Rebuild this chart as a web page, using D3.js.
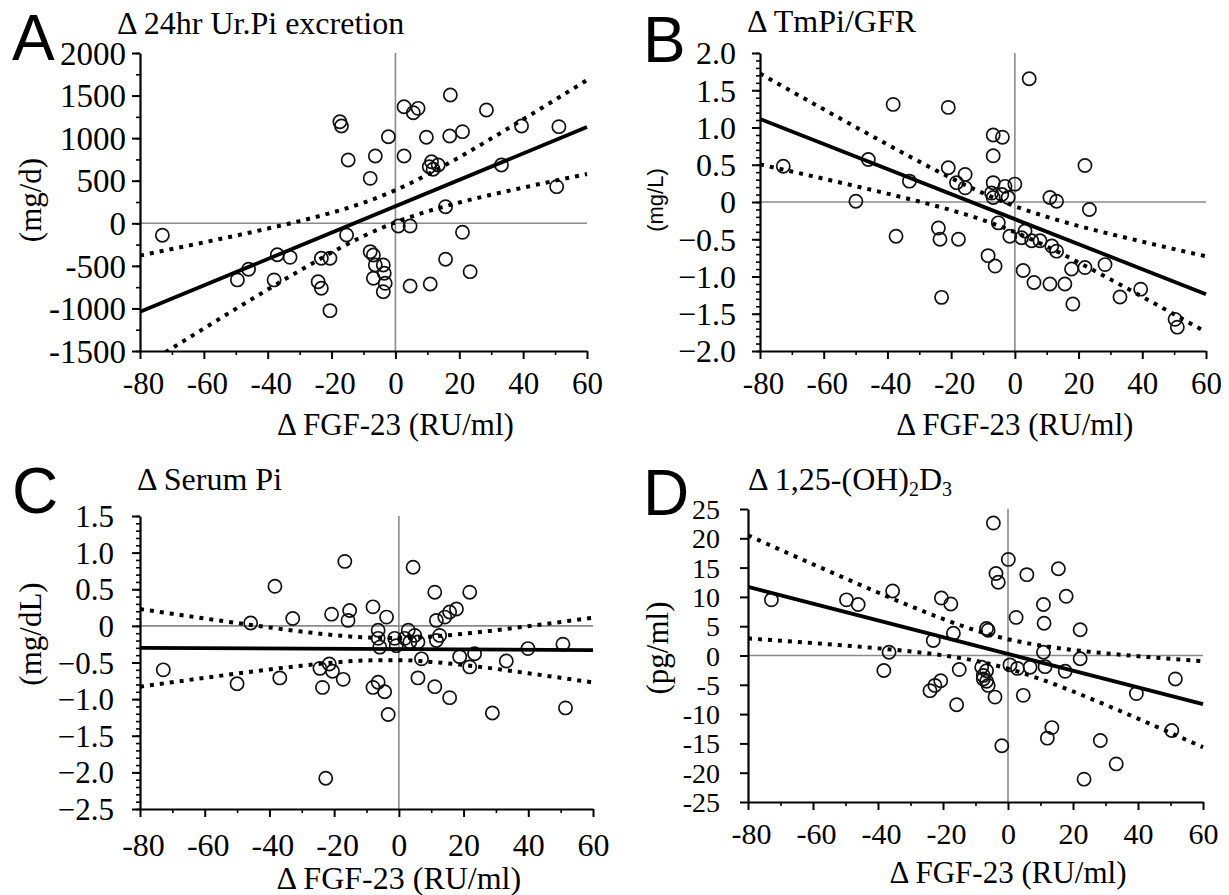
<!DOCTYPE html>
<html>
<head>
<meta charset="utf-8">
<script src="https://cdn.jsdelivr.net/npm/d3@7"></script>
<style>
  body { margin: 0; background: #fff; }
  svg text { font-family: "Liberation Serif", "Times New Roman", serif; fill: #000; }
</style>
</head>
<body>
<svg id="chart" width="1229" height="895"></svg>
<script>
// ---- shared x axis: change in FGF-23 (RU/ml) ----
const xTickValues = [-80, -60, -40, -20, 0, 20, 40, 60];
const xMinorValues = [-70, -50, -30, -10, 10, 30, 50];
// x positions at which the 95% confidence limits are tabulated
const ciX = [-80, -70, -60, -50, -40, -30, -20, -10, 0, 10, 20, 30, 40, 50, 60];

// ---- A: change in 24 hr urinary Pi excretion (mg/d) ----
const urPiX = [-73, -49.5, -46, -38, -37, -33, -24.2, -23.2, -23.2, -20.5, -20.5, -17.4, -16.9, -14.8, -15.3,
  -7.9, -6.3, -7.9, -6.9, -6.9, -3.8, -6.3, -3.2, -3.8, -3.5, -2.2, 0.9, 2.7, 5.6, 7.1, 2.7, 9.7, 17.0, 21.0,
  17.2, 28.5, 11.3, 13.4, 11.8, 10.6, 33.2, 39.5, 51.2, 50.5, 15.7, 4.6, 21.0, 15.7, 23.4, 4.6, 10.9];
const urPiY = [-140, -665, -540, -665, -370, -400, -686, -763, -411, -411, -1026, 1193, 1143, 743, -137,
  528, 790, -333, -372, -646, -490, -490, -705, -803, -587, 1017, -32, 1369, 1299, 1350, 790, 1010, 1025, 1076,
  1507, 1331, 723, 685, 634, 665, 685, 1143, 1135, 430, 195, -32, -106, -423, -568, -736, -713];
const urPiFitX = [-80, 60];
const urPiFitY = [-1040, 1130];
const urPiUpper = [-378, -302, -224, -145, -62, 26, 124, 241, 389, 571, 776, 995, 1221, 1450, 1682];
const urPiLower = [-1702, -1468, -1236, -1005, -778, -556, -344, -151, 11, 139, 244, 335, 419, 500, 578];
const urPiTicks = [2000, 1500, 1000, 500, 0, -500, -1000, -1500];

// ---- B: change in TmPi/GFR (mg/L) ----
const tmpX = [-72.7, -49.9, -46.0, -38.2, -37.3, -33.1, -24.0, -23.5, -23.0, -20.9, -20.9, -15.6, -18.3, -15.6,
  -17.7, -6.8, -3.9, -6.8, -6.8, -3.1, 0, -7.3, -4.1, -2.1, -6.8, 4.5, 22.0, 11.0, 13.1, 23.4, -5.2, -1.6, 2.1,
  3.2, 5.3, 7.9, 11.6, 13.1, -8.4, -6.2, 2.6, 6.0, 11.0, 15.7, 17.8, 22.0, 18.2, 28.3, 33.0, 39.5, 50.3, 51.0];
const tmpY = [0.48, 0.01, 0.57, 1.31, -0.46, 0.28, -0.35, -0.50, -1.28, 1.27, 0.46, 0.37, 0.26, 0.19,
  -0.50, 0.90, 0.87, 0.62, 0.26, 0.21, 0.24, 0.12, 0.10, 0.06, 0.06, 1.655, 0.49, 0.06, 0.01, -0.10, -0.28, -0.46, -0.48,
  -0.39, -0.52, -0.52, -0.59, -0.66, -0.72, -0.86, -0.92, -1.08, -1.10, -1.10, -0.90, -0.88, -1.37, -0.84, -1.275, -1.17, -1.575, -1.68];
const tmpFitX = [-80, 60];
const tmpFitY = [1.114, -1.238];
const tmpUpper = [1.724, 1.483, 1.244, 1.007, 0.772, 0.542, 0.321, 0.119, -0.056, -0.199, -0.321, -0.430, -0.532, -0.632, -0.729];
const tmpLower = [0.504, 0.409, 0.312, 0.213, 0.112, 0.006, -0.109, -0.243, -0.404, -0.597, -0.811, -1.038, -1.272, -1.508, -1.747];
const tmpTicks = [2.0, 1.5, 1.0, 0.5, 0, -0.5, -1.0, -1.5, -2.0];

// ---- C: change in serum Pi (mg/dL) ----
const serumX = [-72.8, -50.0, -45.8, -38.3, -36.8, -32.8, -24.4, -23.6, -21.5, -20.5, -20.8, -22.6, -17.2, -16.7,
  -15.2, -15.7, -8.0, -3.8, -6.4, -6.4, -5.9, -8.0, -6.4, -4.4, -3.3, 4.4, 11.1, 21.9, 11.6, 14.2, 15.7, 17.8,
  2.9, 4.9, 3.4, 5.9, 1.8, -1.3, -0.8, 11.6, 12.6, 7.0, 18.8, 23.4, 21.9, 39.9, 33.2, 50.7, 5.9, 11.1, 15.7, 28.9, 51.5];
const serumY = [-0.60, -0.79, 0.04, 0.54, -0.71, 0.10, -0.58, -0.84, -0.52, -0.62, 0.16, -2.08, -0.73, 0.88,
  0.21, 0.075, 0.26, 0.12, -0.06, -0.17, -0.29, -0.84, -0.77, -0.90, -1.21, 0.80, 0.46, 0.46, 0.075, 0.12, 0.19, 0.23,
  -0.06, -0.13, -0.22, -0.22, -0.17, -0.17, -0.27, -0.20, -0.13, -0.45, -0.42, -0.38, -0.56, -0.31, -0.48, -0.25, -0.71, -0.83, -0.98, -1.19, -1.12];
const serumFitX = [-80, 60];
const serumFitY = [-0.300, -0.330];
const serumUpper = [0.230, 0.165, 0.101, 0.039, -0.021, -0.078, -0.126, -0.158, -0.166, -0.146, -0.108, -0.059, -0.005, 0.053, 0.112];
const serumLower = [-0.830, -0.769, -0.709, -0.651, -0.595, -0.544, -0.500, -0.472, -0.468, -0.492, -0.534, -0.587, -0.647, -0.709, -0.772];
const serumTicks = [1.5, 1.0, 0.5, 0, -0.5, -1.0, -1.5, -2.0, -2.5];

// ---- D: change in 1,25-(OH)2D3 (pg/ml) ----
const vitDX = [-72.8, -49.7, -46.1, -35.5, -36.6, -38.2, -23.0, -20.5, -17.6, -24.0, -22.5, -20.7, -16.8, -15.0,
  -15.8, -4.5, 0.1, -3.7, -3.0, 5.8, 15.5, 17.9, 10.9, 11.1, 2.5, 22.2, -6.6, -6.1, 10.9, 22.2, -8.1, -6.6, -7.6,
  -6.6, -6.1, -7.6, -4.0, -1.9, 0.6, 2.9, 6.8, 11.4, 17.6, 4.7, 13.5, 12.1, 28.4, 33.3, 23.4, 39.5, 51.5, 50.4];
const vitDY = [9.5, 9.5, 8.7, 11.0, 0.56, -2.56, 2.56, 9.8, 8.8, -6.0, -5.1, -4.3, 3.8, -2.4,
  -8.4, 22.6, 16.4, 14.0, 12.5, 13.8, 14.8, 10.1, 8.7, 5.5, 6.5, 4.4, 4.6, 4.3, 0.56, -0.56, -2.0, -2.6, -3.4,
  -4.4, -5.1, -4.0, -7.1, -15.4, -1.6, -2.2, -2.0, -1.9, -2.7, -6.8, -12.3, -14.1, -14.5, -18.5, -21.1, -6.5, -4.0, -12.8];
const vitDFitX = [-80, 60];
const vitDFitY = [11.71, -8.31];
const vitDUpper = [20.51, 18.03, 15.57, 13.14, 10.75, 8.42, 6.24, 4.30, 2.78, 1.71, 0.95, 0.37, -0.12, -0.56, -0.97];
const vitDLower = [2.91, 2.53, 2.13, 1.70, 1.23, 0.70, 0.02, -0.90, -2.24, -4.03, -6.13, -8.41, -10.78, -13.20, -15.65];
const vitDTicks = [25, 20, 15, 10, 5, 0, -5, -10, -15, -20, -25];

// ---- layout of the four panels ----
const decFmt = v => (v === 0 ? "0" : d3.format(".1f")(v));
const intFmt = v => String(v);

const panels = [
  { key: "A", letter: "A", letterPos: [12, 60], title: "\u0394 24hr Ur.Pi excretion", titlePos: [117, 34],
    left: 140, right: 587, top: 53, bottom: 351, yDomain: [-1500, 2000],
    xs: urPiX, ys: urPiY, fitX: urPiFitX, fitY: urPiFitY, upper: urPiUpper, lower: urPiLower,
    yTicks: urPiTicks, yMinor: d3.range(-1500, 2001, 250), fmt: intFmt, yPad: 6, yFont: 33,
    xFont: 31, xPad: 13, yLabel: "(mg/d)", yLabelPos: [30, 200], yLabelSans: false,
    xLabelY: 435, xLabelFont: 31 },
  { key: "B", letter: "B", letterPos: [643, 62], title: "\u0394 TmPi/GFR", titlePos: [747, 32],
    left: 760, right: 1206, top: 53, bottom: 351, yDomain: [-2, 2],
    xs: tmpX, ys: tmpY, fitX: tmpFitX, fitY: tmpFitY, upper: tmpUpper, lower: tmpLower,
    yTicks: tmpTicks, yMinor: d3.range(-20, 21, 1).map(v => v / 10), fmt: decFmt, yPad: 16, yFont: 32,
    xFont: 31, xPad: 13, yLabel: "(mg/L)", yLabelPos: [655, 200], yLabelSans: true,
    xLabelY: 435, xLabelFont: 31 },
  { key: "C", letter: "C", letterPos: [12, 513], title: "\u0394 Serum Pi", titlePos: [137, 490],
    left: 140, right: 593, top: 516, bottom: 809, yDomain: [-2.5, 1.5],
    xs: serumX, ys: serumY, fitX: serumFitX, fitY: serumFitY, upper: serumUpper, lower: serumLower,
    yTicks: serumTicks, yMinor: d3.range(-25, 16, 1).map(v => v / 10), fmt: decFmt, yPad: 18, yFont: 31,
    xFont: 32, xPad: 16, yLabel: "(mg/dL)", yLabelPos: [30, 634], yLabelSans: false,
    xLabelY: 889, xLabelFont: 32 },
  { key: "D", letter: "D", letterPos: [643, 515], title: null, titlePos: [748, 490],
    left: 748, right: 1203, top: 509, bottom: 802, yDomain: [-25, 25],
    xs: vitDX, ys: vitDY, fitX: vitDFitX, fitY: vitDFitY, upper: vitDUpper, lower: vitDLower,
    yTicks: vitDTicks, yMinor: [], fmt: intFmt, yPad: 20, yFont: 28,
    xFont: 30, xPad: 13, yLabel: "(pg/ml)", yLabelPos: [657, 648], yLabelSans: false,
    xLabelY: 883, xLabelFont: 31 }
];

const svg = d3.select("#chart");
const sansFont = "'Liberation Sans', Arial, sans-serif";

function drawPanel(p) {
  const x = d3.scaleLinear().domain([-80, 60]).range([p.left, p.right]);
  const y = d3.scaleLinear().domain(p.yDomain).range([p.bottom, p.top]);
  const g = svg.append("g").attr("class", "panel-" + p.key);

  const clipId = "clip-" + p.key;
  svg.append("clipPath").attr("id", clipId)
    .append("rect").attr("x", p.left).attr("y", p.top - 2)
    .attr("width", p.right - p.left + 2).attr("height", p.bottom - p.top + 2);

  // zero reference lines
  g.append("line").attr("x1", x(0)).attr("x2", x(0)).attr("y1", p.top).attr("y2", p.bottom)
    .attr("stroke", "#8a8a8a").attr("stroke-width", 1.6);
  g.append("line").attr("x1", p.left).attr("x2", p.right).attr("y1", y(0)).attr("y2", y(0))
    .attr("stroke", "#8a8a8a").attr("stroke-width", 1.6);

  // minor ticks
  if (p.yMinor.length) {
    g.append("g").attr("transform", `translate(${p.left},0)`)
      .call(d3.axisLeft(y).tickValues(p.yMinor).tickSize(4).tickSizeOuter(0).tickFormat(""))
      .call(a => a.select(".domain").remove())
      .call(a => a.selectAll("line").attr("stroke-width", 1.6));
  }
  g.append("g").attr("transform", `translate(0,${p.bottom})`)
    .call(d3.axisBottom(x).tickValues(xMinorValues).tickSize(4).tickSizeOuter(0).tickFormat(""))
    .call(a => a.select(".domain").remove())
    .call(a => a.selectAll("line").attr("stroke-width", 1.6));

  // major axes
  const yAxis = d3.axisLeft(y).tickValues(p.yTicks).tickSize(8).tickSizeOuter(0)
    .tickPadding(p.yPad).tickFormat(p.fmt);
  g.append("g").attr("transform", `translate(${p.left},0)`).call(yAxis)
    .call(a => a.select(".domain").attr("stroke-width", 2.2))
    .call(a => a.selectAll("line").attr("stroke-width", 2))
    .call(a => a.selectAll("text").attr("font-family", null).attr("font-size", p.yFont).attr("dy", "0.34em"));

  const xAxis = d3.axisBottom(x).tickValues(xTickValues).tickSize(8).tickSizeOuter(0)
    .tickPadding(p.xPad).tickFormat(intFmt);
  g.append("g").attr("transform", `translate(0,${p.bottom})`).call(xAxis)
    .call(a => a.select(".domain").attr("stroke-width", 2.2))
    .call(a => a.selectAll("line").attr("stroke-width", 2))
    .call(a => a.selectAll("text").attr("font-family", null).attr("font-size", p.xFont).attr("dy", "0.71em")
      .attr("dx", d => (d < 0 ? 3 : 0)));

  // observations
  g.append("g").selectAll("circle").data(d3.zip(p.xs, p.ys)).join("circle")
    .attr("cx", d => x(d[0])).attr("cy", d => y(d[1])).attr("r", 6.6)
    .attr("fill", "none").attr("stroke", "#111").attr("stroke-width", 1.7);

  // regression line with 95% confidence limits
  const lineGen = d3.line().x(d => x(d[0])).y(d => y(d[1])).curve(d3.curveMonotoneX);
  const lines = g.append("g").attr("clip-path", `url(#${clipId})`);
  [p.upper, p.lower].forEach(band => {
    lines.append("path").datum(d3.zip(ciX, band)).attr("d", lineGen)
      .attr("fill", "none").attr("stroke", "#000").attr("stroke-width", 4)
      .attr("stroke-dasharray", "4,6");
  });
  lines.append("path").datum(d3.zip(p.fitX, p.fitY)).attr("d", d3.line().x(d => x(d[0])).y(d => y(d[1])))
    .attr("fill", "none").attr("stroke", "#000").attr("stroke-width", 3.8);

  // panel letter
  svg.append("text").attr("x", p.letterPos[0]).attr("y", p.letterPos[1])
    .style("font-family", sansFont).attr("font-size", 64).text(p.letter);

  // title
  const t = svg.append("text").attr("x", p.titlePos[0]).attr("y", p.titlePos[1]).attr("font-size", 32);
  if (p.title) {
    t.text(p.title);
  } else {
    t.append("tspan").text("\u0394 1,25-(OH)");
    t.append("tspan").attr("font-size", 20).attr("dy", 6).text("2");
    t.append("tspan").attr("dy", -6).text("D");
    t.append("tspan").attr("font-size", 20).attr("dy", 6).text("3");
  }

  // y-axis unit label
  const yl = svg.append("text")
    .attr("transform", `translate(${p.yLabelPos[0]},${p.yLabelPos[1]}) rotate(-90)`)
    .attr("text-anchor", "middle").attr("dy", "0.35em")
    .attr("font-size", p.yLabelSans ? 22 : 31).text(p.yLabel);
  if (p.yLabelSans) yl.style("font-family", sansFont);

  // x-axis label
  svg.append("text").attr("x", x(0)).attr("y", p.xLabelY).attr("text-anchor", "middle")
    .attr("font-size", p.xLabelFont).text("\u0394 FGF-23 (RU/ml)");
}

panels.forEach(drawPanel);
</script>
</body>
</html>
